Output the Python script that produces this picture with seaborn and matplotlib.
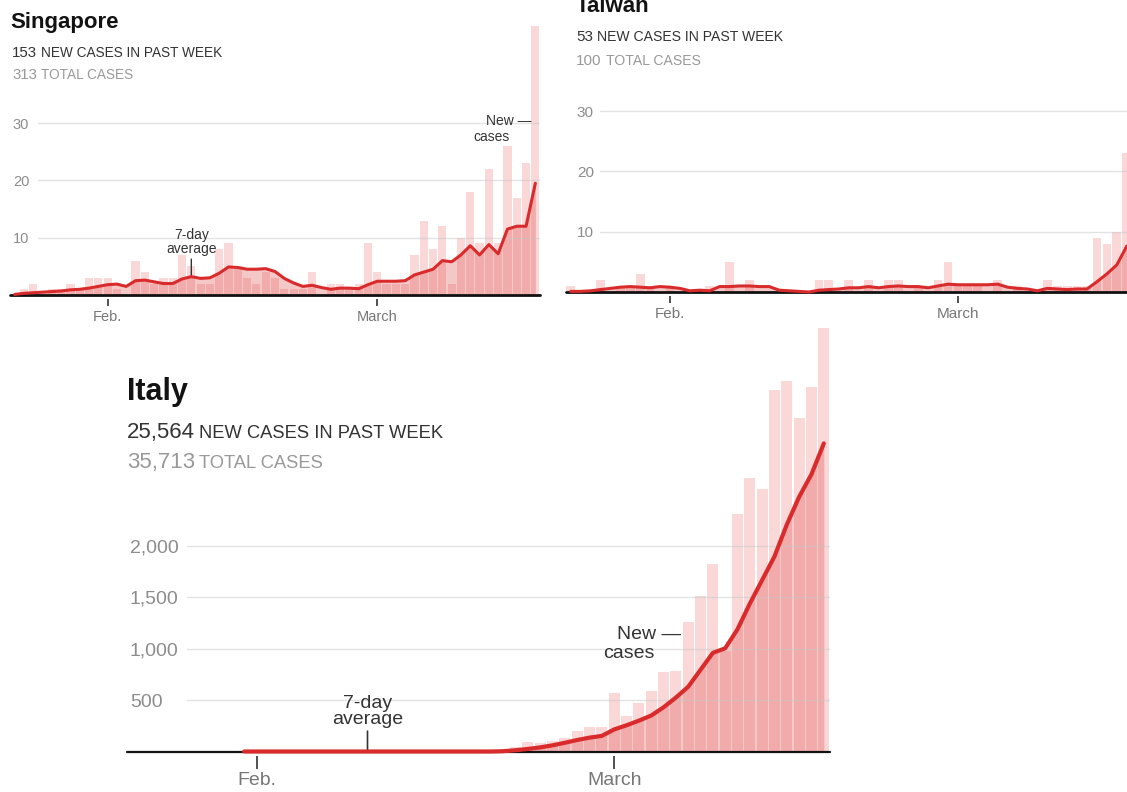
import numpy as np
import pandas as pd
import matplotlib
matplotlib.use("Agg")
import matplotlib.pyplot as plt
import seaborn as sns

W, H = 1127, 792

# day index 0 = Jan. 22 ... 56 = March 18
days = list(range(57))
tick_days = [10, 39]
tick_labels = ["Feb.", "March"]

singapore_new = [0, 1, 2, 0, 1, 1, 2, 1, 3, 3,
                 3, 1, 0, 6, 4, 2, 3, 3, 7, 5,
                 2, 2, 8, 9, 5, 3, 2, 4, 3, 1,
                 1, 1, 4, 0, 2, 2, 1, 2, 9, 4,
                 2, 2, 2, 7, 13, 8, 12, 2, 10, 18,
                 9, 22, 9, 26, 17, 23, 47]
singapore_avg = [0.1, 0.3, 0.4, 0.5, 0.6, 0.7, 0.9, 1.0, 1.2, 1.5,
                 1.8, 1.9, 1.5, 2.5, 2.6, 2.3, 2.0, 2.0, 2.8, 3.2,
                 2.9, 3.0, 3.8, 4.9, 4.8, 4.5, 4.5, 4.6, 4.1, 2.9,
                 2.1, 1.5, 1.7, 1.3, 1.0, 1.2, 1.2, 1.1, 1.8, 2.4,
                 2.4, 2.4, 2.5, 3.5, 4.0, 4.5, 6.0, 5.8, 7.0, 8.6,
                 7.0, 8.8, 7.2, 11.5, 12.0, 12.0, 19.5]

taiwan_new = [1, 0, 0, 2, 0, 1, 1, 3, 1, 0,
              1, 0, 0, 0, 1, 0, 5, 0, 2, 0,
              0, 0, 0, 0, 0, 2, 2, 0, 2, 0,
              2, 0, 2, 2, 0, 1, 0, 2, 5, 1,
              1, 1, 0, 2, 0, 1, 0, 0, 2, 1,
              1, 1, 1, 9, 8, 10, 23]
taiwan_avg = [0.1, 0.1, 0.2, 0.4, 0.6, 0.8, 0.9, 0.8, 0.7, 0.9,
              0.8, 0.6, 0.2, 0.3, 0.2, 0.9, 0.9, 1.0, 1.0, 0.9,
              0.9, 0.3, 0.2, 0.1, 0.0, 0.3, 0.4, 0.5, 0.7, 0.7,
              0.9, 0.7, 0.9, 1.0, 0.9, 0.9, 0.7, 1.0, 1.3, 1.2,
              1.2, 1.2, 1.2, 1.3, 0.8, 0.6, 0.5, 0.2, 0.6, 0.5,
              0.4, 0.5, 0.5, 1.7, 3.0, 4.5, 7.6]

italy_new = [0, 0, 0, 0, 0, 0, 0, 0, 0, 2,
             0, 0, 0, 0, 0, 1, 0, 0, 0, 0,
             0, 0, 0, 0, 0, 0, 0, 0, 0, 0,
             17, 42, 88, 81, 103, 127, 201, 234, 243, 574,
             341, 470, 590, 775, 785, 1259, 1515, 1824, 977, 2317,
             2664, 2560, 3520, 3610, 3250, 3552, 4120]
italy_avg = [None] * 9 + [0] * 21 + [
             3, 12, 25, 40, 60, 85, 112, 135, 152, 215,
             255, 300, 350, 430, 525, 630, 795, 960, 1005, 1190,
             1440, 1670, 1900, 2210, 2480, 2700, 3000]

BAR = "#fad8d8"
RED = "#d92b2b"

sns.set_theme(style="white")
plt.rcParams["font.family"] = ["Liberation Sans", "DejaVu Sans"]

fig = plt.figure(figsize=(W / 100, H / 100), dpi=100)
fig.patch.set_facecolor("white")


def px_text(x, y, s, **kw):
    return fig.text(x / W, 1 - y / H, s, **kw)


def panel(left, right, base, top, ppu, new, avg, grid, grid_start, ysize,
          xsize, ypad, tick_len, line_w, base_w):
    ax = fig.add_axes([left / W, 1 - (base + 4) / H, (right - left) / W, (base + 4 - top) / H])
    ax.set_facecolor("none")
    df = pd.DataFrame({"day": days, "new": new, "avg": avg})
    sns.barplot(data=df, x="day", y="new", native_scale=True, width=0.88,
                color=BAR, saturation=1, linewidth=0, errorbar=None, ax=ax, zorder=1)
    d = df.dropna()
    ax.fill_between(d["day"], d["avg"].astype(float), color=RED, alpha=0.26, lw=0, zorder=2)
    for g in grid:
        ax.axhline(g, xmin=grid_start, color="#c8c8c8", alpha=0.5, lw=1, zorder=2.5)
    ax.axhline(0, color="#111111", lw=base_w, zorder=3, clip_on=False)
    sns.lineplot(data=d, x="day", y="avg", color=RED, lw=line_w, ax=ax, zorder=4,
                 solid_joinstyle="round", solid_capstyle="round")
    ax.set_xlim(-0.5, 56.5)
    ax.set_ylim(-4 / ppu, (base - top) / ppu)
    ax.set_xticks(tick_days, tick_labels)
    ax.set_yticks(grid, [f"{g:,}" for g in grid])
    ax.tick_params(axis="x", length=tick_len, width=1.2, color="#333333",
                   labelcolor="#777777", labelsize=xsize, pad=3, bottom=True)
    ax.tick_params(axis="y", length=0, labelcolor="#8c8c8c", labelsize=ysize, pad=ypad)
    for lab in ax.get_yticklabels():
        lab.set_ha("left")
    for s in ax.spines.values():
        s.set_visible(False)
    ax.set_xlabel("")
    ax.set_ylabel("")
    return ax


sg = panel(10, 540, 295, 20, 5.73, singapore_new, singapore_avg, [10, 20, 30], 0.053,
           10.5, 10.5, -2, 5, 2.2, 2.0)
tw = panel(565.7, 1131.7, 292, 0, 6.03, taiwan_new, taiwan_avg, [10, 20, 30], 0.06,
           11, 11, -8, 5, 2.2, 2.0)
it = panel(127, 830, 751.5, 320, 0.1027, italy_new, italy_avg, [500, 1000, 1500, 2000], 0.085,
           14, 14, -2, 9, 3.0, 1.6)

renderer = fig.canvas.get_renderer()


def stat(x, y, num, label, color, big, small):
    t = px_text(x, y, num, fontsize=big, color=color, va="baseline")
    bb = t.get_window_extent(renderer=renderer)
    fig.text(bb.x1 / W + 4 / W, 1 - y / H, label, fontsize=small, color=color, va="baseline")


# titles and totals
px_text(10, 28, "Singapore", fontsize=16, fontweight="bold", color="#121212", va="baseline")
stat(12, 57, "153", "NEW CASES IN PAST WEEK", "#333333", 10.8, 9.8)
stat(12, 79, "313", "TOTAL CASES", "#999999", 10.8, 9.8)

px_text(576, 12, "Taiwan", fontsize=16, fontweight="bold", color="#121212", va="baseline")
stat(576, 41, "53", "NEW CASES IN PAST WEEK", "#333333", 11, 10.1)
stat(576, 65, "100", "TOTAL CASES", "#999999", 11, 10.1)

px_text(127, 400, "Italy", fontsize=22, fontweight="bold", color="#121212", va="baseline")
stat(127, 438, "25,564", "NEW CASES IN PAST WEEK", "#333333", 16, 13.2)
stat(127, 468, "35,713", "TOTAL CASES", "#999999", 16, 13.2)

# annotations
sg.annotate("7-day\naverage", xy=(19, singapore_avg[19]), xytext=(0, 15), textcoords="offset points",
            ha="center", va="bottom", fontsize=10, color="#333333", linespacing=0.95,
            arrowprops=dict(arrowstyle="-", color="#333333", lw=1, shrinkA=0, shrinkB=1))
it.annotate("7-day\naverage", xy=(19, 0), xytext=(0, 17), textcoords="offset points",
            ha="center", va="bottom", fontsize=14, color="#333333", linespacing=0.95,
            arrowprops=dict(arrowstyle="-", color="#333333", lw=1.2, shrinkA=0, shrinkB=0))

px_text(531, 125, "New —", fontsize=10, color="#333333", ha="right", va="baseline")
px_text(510, 141, "cases", fontsize=10, color="#333333", ha="right", va="baseline")
px_text(681, 639, "New —", fontsize=14, color="#333333", ha="right", va="baseline")
px_text(655, 658, "cases", fontsize=14, color="#333333", ha="right", va="baseline")

fig.savefig("out.png", dpi=100, facecolor="white")
